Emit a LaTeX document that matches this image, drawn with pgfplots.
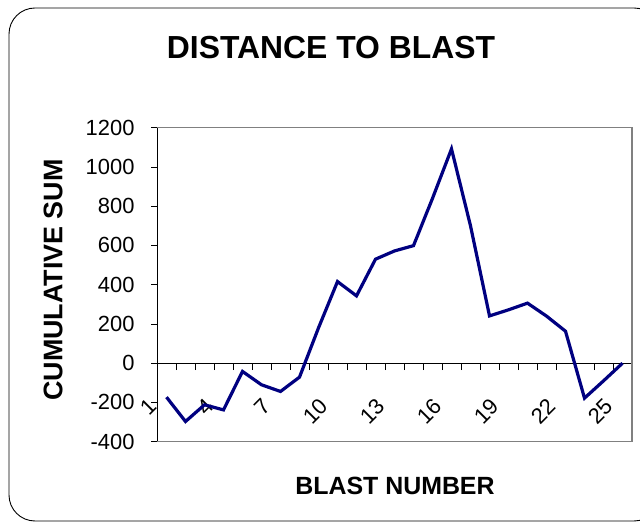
\documentclass[border=0pt]{standalone}
\usepackage{pgfplots}
\pgfplotsset{compat=1.18}
\usepackage{fontspec}
\setmainfont{Liberation Sans}
\definecolor{navyline}{HTML}{000080}
\definecolor{boxgray}{HTML}{808080}
\begin{document}
\begin{tikzpicture}[x=1bp,y=1bp]
\useasboundingbox (0,0) rectangle (640bp,525bp);
\draw[black, line width=0.9bp, rounded corners=26bp] (9bp,4bp) rectangle (660bp,517bp);
\begin{axis}[
  at={(157bp,83.3bp)}, anchor=south west,
  width=475bp, height=314bp, scale only axis,
  xmin=0.5, xmax=25.5, ymin=-400, ymax=1200,
  axis x line=middle, axis y line=left,
  axis line style={-, black, line width=0.9bp},
  tick align=outside,
  xtick={1,4,...,25},
  xticklabels={1,4,7,10,13,16,19,22,25},
  minor xtick={0.5,1.5,...,25.5},
  major x tick style={draw=none},
  minor x tick style={black, line width=0.8bp},
  minor tick length=7bp,
  major tick length=6bp,
  ytick={-400,-200,...,1200},
  yticklabels={-400,-200,0,200,400,600,800,1000,1200},
  y tick style={black, line width=0.8bp},
  tick label style={font=\fontsize{22}{24}\selectfont},
  xticklabel style={xshift=-11bp, yshift=-31bp, rotate=45, anchor=east},
  yticklabel style={anchor=east, xshift=-13bp},
  clip=false,
]
\draw[boxgray, line width=1.2bp] (rel axis cs:0,0) -- (rel axis cs:1,0) -- (rel axis cs:1,1) -- (rel axis cs:0,1);
\addplot[navyline, line width=3.2bp, line join=miter, mark=none] coordinates {
(1,-173) (2,-297) (3,-212) (4,-238) (5,-42) (6,-110) (7,-144) (8,-71)
(9,180) (10,416) (11,343) (12,530) (13,572) (14,599) (15,840) (16,1092)
(17,700) (18,241) (19,272) (20,306) (21,240) (22,163) (23,-178) (24,-90) (25,0)
};
\end{axis}
\node[font=\bfseries\fontsize{32}{36}\selectfont] at (331bp,477bp) {DISTANCE TO BLAST};
\node[font=\bfseries\fontsize{25}{28}\selectfont] at (395bp,39bp) {BLAST NUMBER};
\node[font=\bfseries\fontsize{27}{30}\selectfont, rotate=90] at (53bp,245bp) {CUMULATIVE SUM};
\end{tikzpicture}
\end{document}
